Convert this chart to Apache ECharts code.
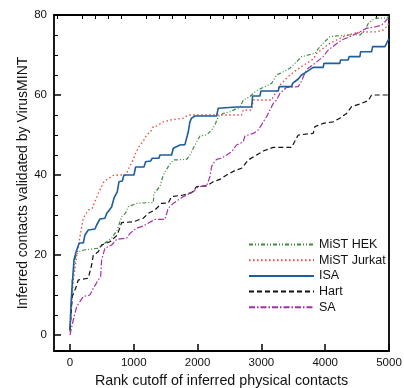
<!DOCTYPE html>
<html><head><meta charset="utf-8">
<script src="https://cdn.jsdelivr.net/npm/echarts@6/dist/echarts.min.js"></script>
<style>html,body{margin:0;padding:0;background:#fff}#c{width:404px;height:388px}</style>
</head><body><div id="c"></div>
<script>
const seriesNames = ['MiST HEK','MiST Jurkat','ISA','Hart','SA'];
const xMajorTicks = [0,1000,2000,3000,4000,5000];
const yMajorTicks = [0,20,40,60,80];
const xMinorTicks = [-200,200,400,600,800,1200,1400,1600,1800,2200,2400,2600,2800,3200,3400,3600,3800,4200,4400,4600,4800];
const yMinorTicks = [5,10,15,25,30,35,45,50,55,65,70,75];

const mistHek = [[0,1],[20,6.25],[36,13.75],[89,19.6],[141,20.8],[219,21.25],[444,21.7],[575,23.3],[653,24.2],[741,26.25],[810,29.6],[872,30.5],[914,32.1],[1045,32.9],[1227,33.1],[1306,33.1],[1316,35.4],[1410,37.1],[1462,40],[1540,42.1],[1619,43.75],[1828,43.9],[1880,45],[1959,47.5],[2037,49.75],[2141,50],[2220,51.25],[2272,52.5],[2324,54.6],[2402,55.4],[2507,55.8],[2585,56.4],[2663,56.9],[2716,58.75],[2820,59.6],[2899,60.8],[3004,61.7],[3160,62.9],[3238,65],[3342,65.8],[3447,66.7],[3525,67.9],[3630,69.6],[3734,70],[3839,70.4],[3917,72.1],[4073,74.6],[4335,75],[4544,75],[4623,76.25],[4675,77.9],[4779,79.2],[4936,79.2],[5000,79.6]];
const mistJurkat = [[0,0.8],[52,13.75],[105,19.6],[157,24.6],[209,29.2],[287,31.25],[350,31.7],[402,33.75],[454,35.8],[533,38.3],[611,39.2],[690,40],[872,40],[924,41.7],[976,43.3],[1029,45.4],[1081,47.1],[1160,48.75],[1201,50],[1264,50.8],[1306,52.1],[1368,52.3],[1462,53.3],[1619,53.9],[1776,54.2],[1854,55],[2690,55],[2716,56.25],[2847,56.25],[2873,58.75],[3160,58.75],[3186,59.6],[3238,60.8],[3290,62.5],[3369,63.75],[3447,65],[3552,66.25],[3630,67.1],[3708,67.9],[3812,69],[3865,70.4],[3969,71.7],[4073,72.9],[4178,73.75],[4283,74.6],[4492,75.6],[4700,75.8],[4804,75.8],[4909,76.25],[4972,77.25],[5000,78]];
const isa = [[0,1.5],[20,8.75],[63,18.75],[100,21],[146,23],[209,23],[235,25],[287,26.25],[392,26.5],[418,27.5],[470,29],[548,29.2],[575,30.4],[653,32],[690,34.2],[741,35.8],[768,38.3],[820,38.5],[846,40],[1003,40],[1029,42],[1160,42],[1186,43.3],[1264,43.5],[1290,44.2],[1395,44.2],[1410,45],[1593,45],[1619,46.7],[1724,47.5],[1802,47.6],[1828,49.2],[1854,50.8],[1880,53.3],[1906,54.2],[1959,54.75],[2298,54.75],[2324,56.7],[2611,57],[2847,57],[2862,59.75],[2977,59.75],[2993,61],[3264,61],[3280,62.1],[3473,62.1],[3489,62.9],[3577,64],[3630,65],[3708,65.8],[3812,66.9],[3969,66.9],[3980,67.9],[4230,67.9],[4241,68.75],[4360,68.75],[4376,69.6],[4544,69.6],[4555,70.8],[4727,70.8],[4743,72.1],[4936,72.1],[4962,72.9],[4987,73.75],[5000,74]];
const hart = [[0,1.25],[36,9.6],[89,11.7],[130,13.75],[287,14.2],[340,17.5],[366,20],[444,20.8],[496,22.5],[627,23.3],[741,25],[810,28.1],[992,28.3],[1149,29.2],[1227,30.4],[1332,31.25],[1436,32.9],[1540,33],[1593,34.6],[1776,35],[1906,35.6],[1985,37.1],[2141,37.3],[2245,38.3],[2350,38.9],[2455,40],[2585,41.1],[2690,41.7],[2794,43.75],[2925,45],[3029,46],[3186,46.9],[3473,46.9],[3577,50],[3812,50.4],[3839,52.1],[3969,52.9],[4125,53.3],[4230,54.2],[4335,55.4],[4414,57.1],[4544,57.75],[4675,58.6],[4727,60],[5000,60]];
const sa = [[0,0],[52,3.75],[105,7.1],[209,9.6],[313,10],[366,11.7],[444,13.75],[481,14.6],[496,18.75],[548,21.7],[653,22.5],[731,23.9],[888,24.2],[940,25.4],[1045,26.7],[1149,27.25],[1332,28.9],[1489,28.9],[1540,31.7],[1619,32.9],[1776,34.6],[1932,35.8],[2011,37.1],[2141,37.25],[2194,39.6],[2220,42.1],[2245,42.9],[2298,43.9],[2376,44.2],[2455,45],[2533,45.8],[2611,47.5],[2716,48.3],[2742,49.75],[2873,50.4],[2951,51.25],[2977,51.7],[3082,54.6],[3186,57.9],[3238,58.75],[3290,60.4],[3395,61.9],[3577,62.1],[3630,63.5],[3682,65.5],[3734,66.7],[3839,67.9],[3969,69.6],[4048,71.25],[4152,72.5],[4257,73.75],[4387,74.6],[4544,75.8],[4649,76.7],[4804,77.1],[4883,77.5],[4936,78.3],[4972,79],[5000,79]];

const seriesData = [mistHek, mistJurkat, isa, hart, sa];
const colors = ['#3b8c3b','#e8453f','#1d5e9e','#111111','#a52fa5'];
const dashes = [[4,2,1,2,1,2],[1.5,2.5],'solid',[5,3],[6,2,1.5,2]];
const widths = [1.2,1.3,1.6,1.2,1.2];
const font = 'Liberation Sans, Arial, sans-serif';

const chart = echarts.init(document.getElementById('c'), null, {renderer:'canvas'});
const baseX = {type:'value', min:-250, max:5000, splitLine:{show:false}, axisLine:{show:false, onZero:false}};
const baseY = {type:'value', min:-4, max:80, splitLine:{show:false}, axisLine:{show:false, onZero:false}};
chart.setOption({
  animation:false,
  grid:{left:54, right:15, top:15, bottom:37, show:true, borderColor:'#000', borderWidth:1.8, backgroundColor:'transparent', outerBoundsMode:'none', containLabel:false},
  xAxis:[
    Object.assign({}, baseX, {
      name:'Rank cutoff of inferred physical contacts', nameLocation:'middle', nameGap:19,
      nameTextStyle:{fontFamily:font, fontSize:14.3, color:'#111'},
      axisTick:{inside:true, length:7, lineStyle:{color:'#000', width:1.5}, customValues:xMajorTicks},
      axisLabel:{customValues:xMajorTicks, margin:6, fontFamily:font, fontSize:11.5, color:'#111', formatter:v=>String(v)}
    }),
    Object.assign({}, baseX, {
      axisTick:{inside:true, length:4, lineStyle:{color:'#000', width:1}, customValues:xMinorTicks},
      axisLabel:{show:false}
    })
  ],
  yAxis:[
    Object.assign({}, baseY, {
      name:'Inferred contacts validated by VirusMINT', nameLocation:'middle', nameGap:24, nameMoveOverlap:false,
      nameTextStyle:{fontFamily:font, fontSize:14, color:'#111'},
      axisTick:{inside:true, length:7, lineStyle:{color:'#000', width:1.5}, customValues:yMajorTicks},
      axisLabel:{customValues:yMajorTicks, margin:7, fontFamily:font, fontSize:11.5, color:'#111', formatter:v=>String(v)}
    }),
    Object.assign({}, baseY, {
      position:'left',
      axisTick:{inside:true, length:4, lineStyle:{color:'#000', width:1}, customValues:yMinorTicks},
      axisLabel:{show:false}
    })
  ],
  legend:{
    orient:'vertical', left:243, top:233, itemWidth:65, itemHeight:14, itemGap:2.7,
    data:seriesNames,
    itemStyle:{opacity:0},
    textStyle:{fontFamily:font, fontSize:12.5, color:'#111'}
  },
  series: seriesNames.map((n,i)=>({
    name:n, type:'line', data:seriesData[i], xAxisIndex:0, yAxisIndex:0,
    symbol:'none', showSymbol:false, color:colors[i],
    lineStyle:{color:colors[i], width:widths[i], type:dashes[i]},
    z: i===2 ? 5 : 3
  }))
});
</script></body></html>
